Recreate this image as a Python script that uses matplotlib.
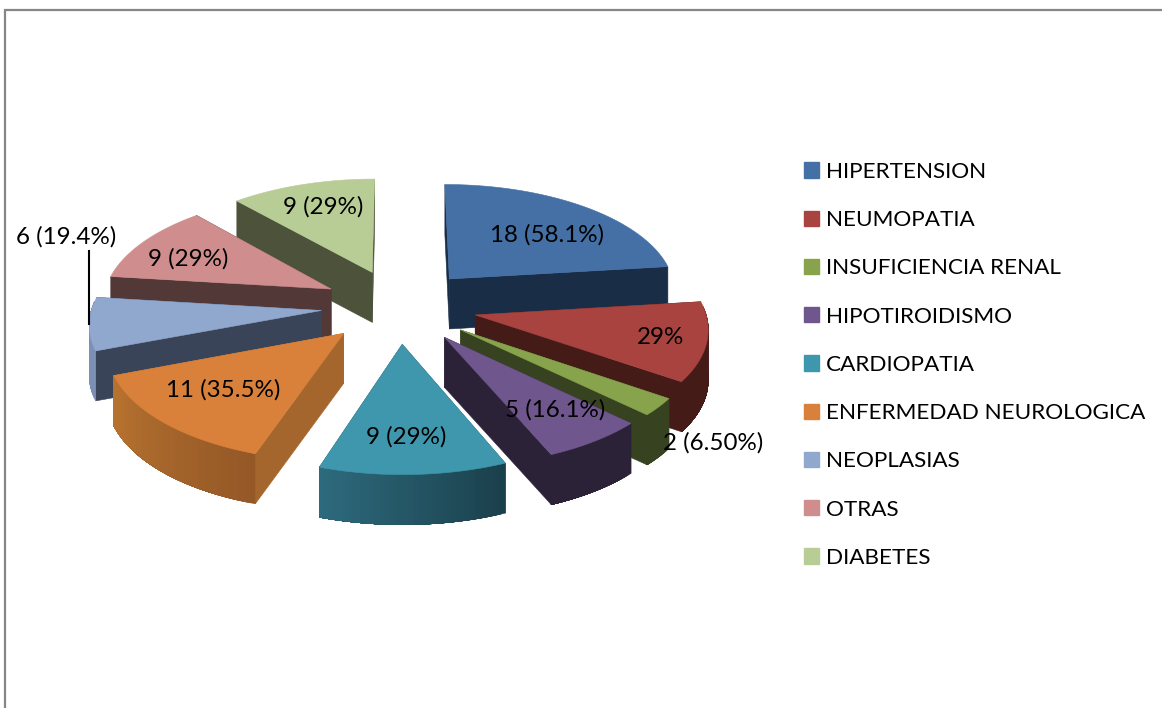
import numpy as np
import matplotlib
matplotlib.use("Agg")
import matplotlib.pyplot as plt
from matplotlib.colors import to_rgb
from matplotlib.patches import Patch, Rectangle

# data
categories = ["HIPERTENSION", "NEUMOPATIA", "INSUFICIENCIA RENAL", "HIPOTIROIDISMO", "CARDIOPATIA",
              "ENFERMEDAD NEUROLOGICA", "NEOPLASIAS", "OTRAS", "DIABETES"]
values = [18, 9, 2, 5, 9, 11, 6, 9, 9]
labels = ["18 (58.1%)", "29%", "2 (6.50%)", "5 (16.1%)", "9 (29%)", "11 (35.5%)", "6 (19.4%)", "9 (29%)", "9 (29%)"]

# styles
top_colors = ["#4470A5", "#A84340", "#87A34C", "#6F568D", "#3F97AD", "#D9813A", "#90A7CE", "#CF8E8D", "#B8CC95"]
wall_colors = ["#1A2D46", "#451B18", "#374320", "#2C2238", "#1E4A58", "#A5662E", "#3A4458", "#533838", "#4C533A"]
arc_start = ["#1A2D46", "#451B18", "#374320", "#2C2238", "#1A404B", "#945827", "#7C90B5", "#6F5150", "#7F8C68"]
arc_end = ["#1A2D46", "#451B18", "#374320", "#2C2238", "#2E6A7D", "#B8732F", "#7C90B5", "#6F5150", "#7F8C68"]
draw_order = [8, 0, 7, 6, 5, 1, 2, 3, 4]

# layout, in picture pixels
cx, cy = 399, 306
rx, ry = 229, 109
persp = 0.1
explode = 0.34
depth = 50
label_pos = [(547, 235), (661, 338), (713, 443), (555, 410), (406, 437), (223, 390), (66, 237), (188, 259), (323, 207)]


def project(x, y):
    w = 1 / (1 + persp * y)
    return cx + rx * x * w, cy - ry * y * w


def wall(ax, xs, ys, color):
    xs = np.r_[xs, xs[::-1]]
    ys = np.r_[ys, ys[::-1] + depth]
    ax.fill(xs, ys, facecolor=color, edgecolor=color, linewidth=0.4)


def draw_slice(ax, i, a0, a1):
    mid = (a0 + a1) / 2
    ox, oy = explode * np.sin(mid), explode * np.cos(mid)
    t = np.linspace(a0, a1, max(int(np.degrees(a1 - a0)), 4))
    ex, ey = project(ox + np.sin(t), oy + np.cos(t))
    apex = project(ox, oy)
    first, last = (ex[0], ey[0]), (ex[-1], ey[-1])

    for end in sorted([first, last], key=lambda e: e[1]):
        wall(ax, np.array([apex[0], end[0]]), np.array([apex[1], end[1]]), wall_colors[i])

    idx = np.where(np.cos(t) <= 0.1)[0]
    if len(idx) > 1:
        c0, c1 = np.array(to_rgb(arc_start[i])), np.array(to_rgb(arc_end[i]))
        # each strip runs to the end of the band, the next one paints over it, so no seams
        for k in idx[:-1]:
            f = k / (len(t) - 2)
            wall(ax, ex[k:idx[-1] + 1], ey[k:idx[-1] + 1], tuple(c0 + (c1 - c0) * f))

    ax.fill(np.r_[apex[0], ex], np.r_[apex[1], ey], facecolor=top_colors[i], edgecolor=top_colors[i], linewidth=0.4)


fig = plt.figure(figsize=(11.62, 7.08), dpi=100)
plt.rcParams["font.family"] = ["Lato", "DejaVu Sans"]
ax = fig.add_axes([0, 0, 1, 1])
ax.set_xlim(0, 1162)
ax.set_ylim(708, 0)
ax.axis("off")

ax.add_patch(Rectangle((5, 10), 1300, 900, facecolor="white", edgecolor="#868686", linewidth=1.6))

fracs = np.array(values) / sum(values) * 2 * np.pi
ends = np.cumsum(fracs)
starts = ends - fracs
for i in draw_order:
    draw_slice(ax, i, starts[i], ends[i])

for lab, (lx, ly) in zip(labels, label_pos):
    ax.text(lx, ly, lab, ha="center", va="center", fontsize=17.4, color="black")

# leader line for the neoplasias label
ax.plot([89, 89], [251, 324], color="black", linewidth=1.5)

handles = [Patch(facecolor=c, edgecolor=c) for c in top_colors]
ax.legend(handles, categories, loc="upper left", bbox_to_anchor=(804 / 1162, 1 - 162 / 708), frameon=False,
          fontsize=16.2, handlelength=0.67, handleheight=0.67, handletextpad=0.31, labelspacing=1.255,
          borderpad=0, borderaxespad=0)

fig.savefig("out.png", dpi=100)
